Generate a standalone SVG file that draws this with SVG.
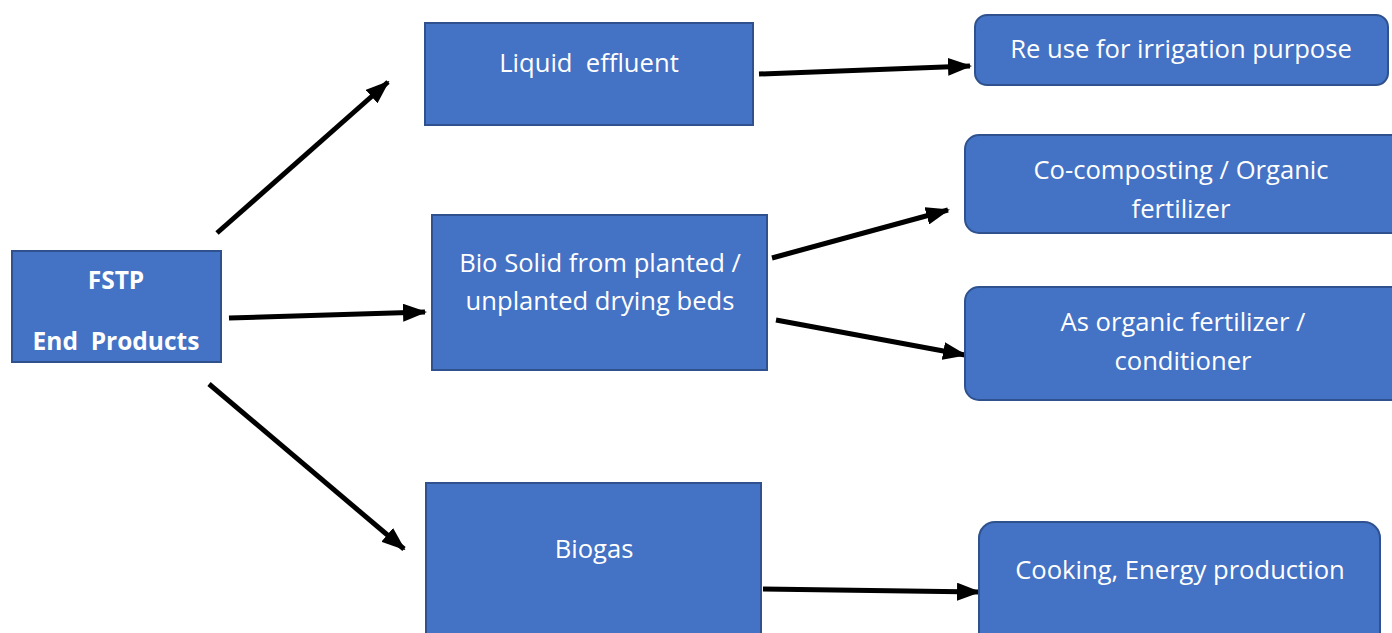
<svg xmlns="http://www.w3.org/2000/svg" width="1392" height="633" viewBox="0 0 1392 633">
<style>
.box{fill:#4472C4;stroke:#2F528F;stroke-width:2}
.t{fill:#fff;font-family:"Open Sans","Noto Sans","Liberation Sans",sans-serif;font-size:25.6px;text-anchor:middle}
.b{font-weight:bold;font-size:24.5px}
.c{stroke:#000;stroke-width:5;fill:none;marker-end:url(#ah)}
</style>
<defs>
<marker id="ah" markerUnits="userSpaceOnUse" markerWidth="24" markerHeight="18" refX="22" refY="9" orient="auto">
<path d="M0,0 L24,9 L0,18 z" fill="#000"/>
</marker>
</defs>
<rect width="1392" height="633" fill="#fff"/>
<g id="connectors">
<line class="c" x1="217" y1="233" x2="388" y2="82"/>
<line class="c" x1="229" y1="318" x2="425" y2="312"/>
<line class="c" x1="209" y1="384" x2="404" y2="549"/>
<line class="c" x1="759" y1="74" x2="970" y2="66"/>
<line class="c" x1="772" y1="258" x2="948" y2="210"/>
<line class="c" x1="776" y1="320" x2="965" y2="355"/>
<line class="c" x1="763" y1="589" x2="979" y2="592"/>
</g>
<g id="fstp">
<rect class="box" x="12" y="251" width="209" height="111"/>
<text class="t b" x="116" y="289">FSTP</text>
<text class="t b" x="116" y="350" xml:space="preserve">End  Products</text>
</g>
<g id="liquid">
<rect class="box" x="425" y="23" width="328" height="102"/>
<text class="t" x="589" y="72" xml:space="preserve">Liquid  effluent</text>
</g>
<g id="biosolid">
<rect class="box" x="432" y="215" width="335" height="155"/>
<text class="t" x="600" y="272">Bio Solid from planted /</text>
<text class="t" x="600" y="310">unplanted drying beds</text>
</g>
<g id="biogas">
<rect class="box" x="426" y="483" width="335" height="160"/>
<text class="t" x="594" y="558">Biogas</text>
</g>
<g id="reuse">
<rect class="box" x="975" y="15" width="413" height="70" rx="12"/>
<text class="t" x="1181" y="58">Re use for irrigation purpose</text>
</g>
<g id="cocomp">
<rect class="box" x="965" y="135" width="440" height="98" rx="14"/>
<text class="t" x="1181" y="179">Co-composting / Organic</text>
<text class="t" x="1181" y="218">fertilizer</text>
</g>
<g id="asorganic">
<rect class="box" x="965" y="287" width="440" height="113" rx="14"/>
<text class="t" x="1183" y="331">As organic fertilizer /</text>
<text class="t" x="1183" y="370">conditioner</text>
</g>
<g id="cooking">
<rect class="box" x="979" y="522" width="401" height="130" rx="16"/>
<text class="t" x="1180" y="579">Cooking, Energy production</text>
</g>
</svg>
